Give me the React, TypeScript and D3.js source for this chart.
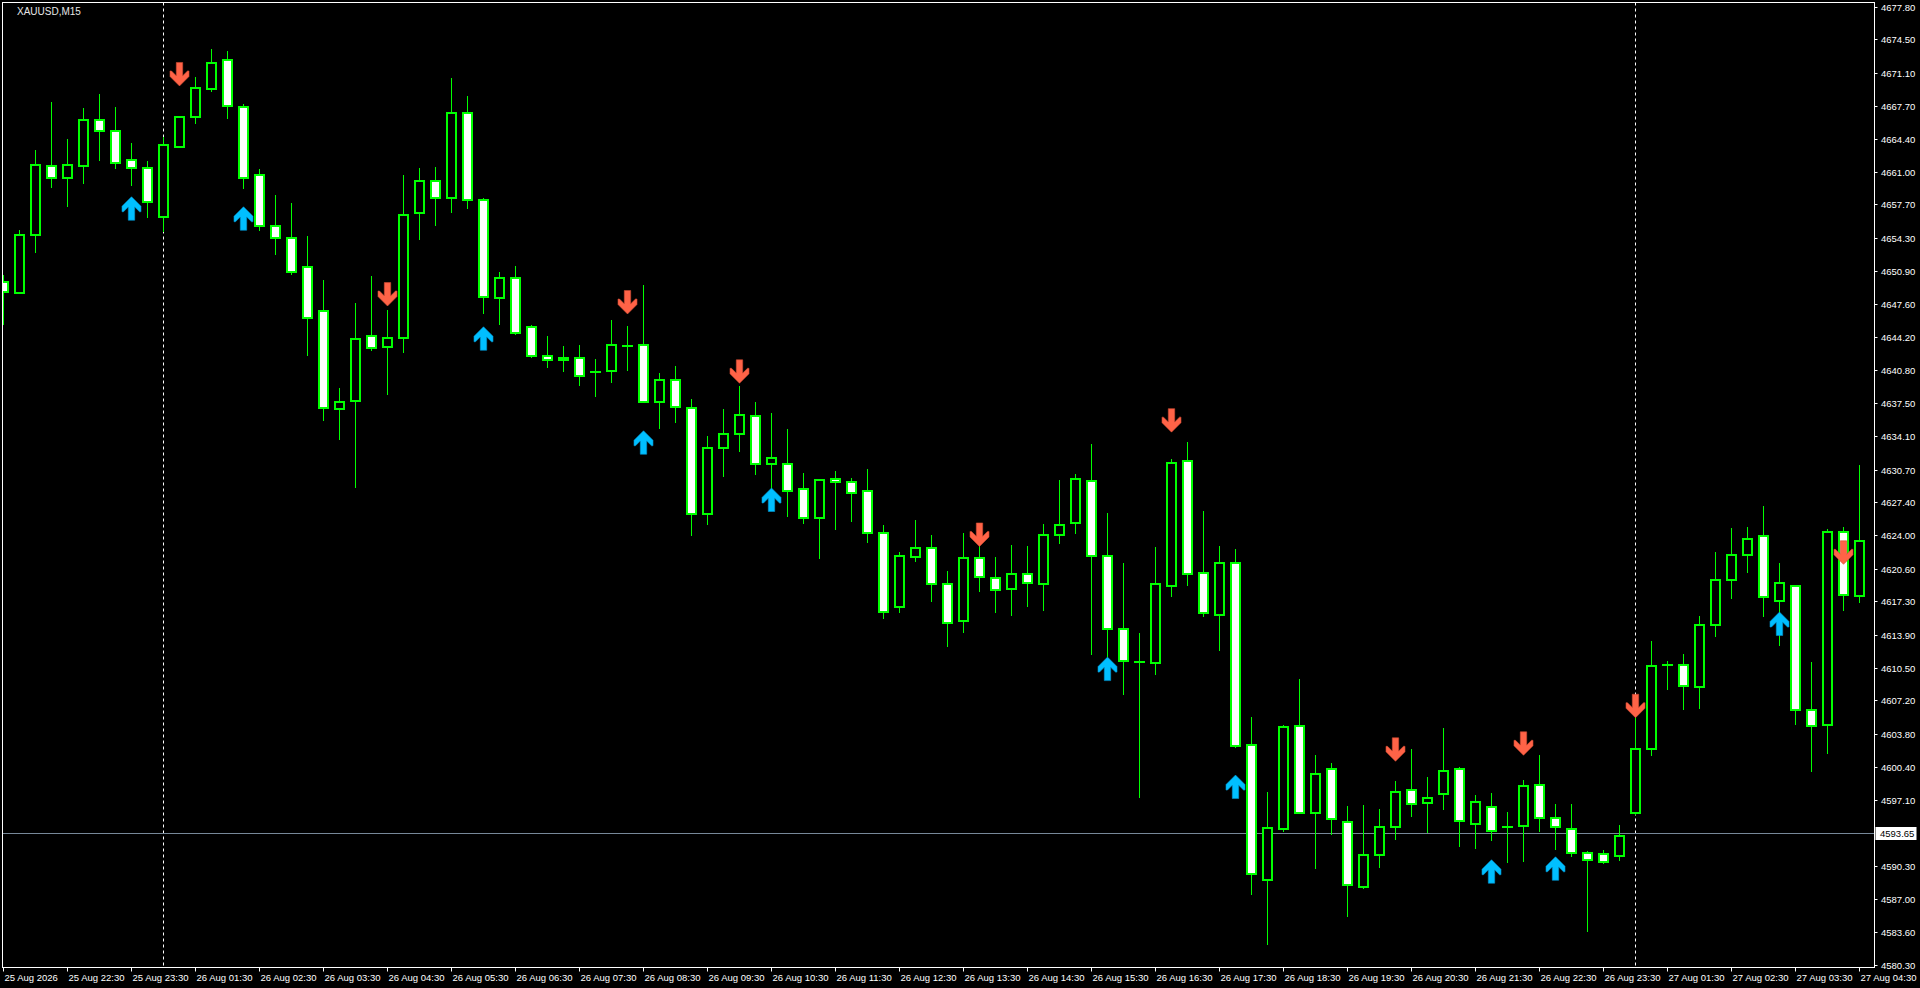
import React from "react";
import * as d3 from "d3";

// ---- DATA ----
const openP = [
  4649.83, 4648.71, 4654.55, 4661.57, 4660.35, 4661.57, 4666.26, 4665.14, 4662.19, 4661.37,
  4656.38, 4663.58, 4666.56, 4669.42, 4672.37, 4667.58, 4660.66, 4655.46, 4654.24, 4651.29,
  4646.81, 4636.83, 4637.64, 4644.26, 4643.14, 4644.06, 4656.79, 4660.05, 4658.32, 4666.97,
  4658.11, 4648.13, 4650.17, 4645.18, 4642.23, 4641.82, 4642.02, 4640.62, 4640.70, 4643.33,
  4643.35, 4637.54, 4639.78, 4636.93, 4626.14, 4632.86, 4634.28, 4636.12, 4631.23, 4631.23,
  4628.68, 4625.73, 4629.70, 4629.40, 4628.48, 4624.20, 4616.67, 4621.76, 4622.67, 4619.01,
  4615.24, 4621.67, 4619.70, 4618.50, 4620.10, 4619.09, 4624.00, 4625.30, 4629.49, 4621.85,
  4614.43, 4611.12, 4611.05, 4618.80, 4631.52, 4620.21, 4615.85, 4621.23, 4602.61, 4588.86,
  4594.06, 4604.61, 4595.69, 4600.17, 4594.77, 4588.22, 4591.41, 4594.26, 4598.03, 4596.71,
  4597.62, 4600.17, 4594.57, 4596.30, 4594.33, 4594.37, 4598.54, 4595.18, 4594.06, 4591.61,
  4591.52, 4591.34, 4595.72, 4602.21, 4610.79, 4610.76, 4608.59, 4614.83, 4619.42, 4621.96,
  4623.90, 4617.28, 4618.80, 4606.18, 4604.65, 4624.30, 4617.79,
];
const highP = [
  4650.51, 4655.09, 4663.24, 4668.13, 4664.36, 4667.51, 4668.94, 4667.62, 4663.95, 4662.08,
  4664.60, 4666.70, 4670.67, 4673.52, 4673.32, 4667.92, 4661.30, 4658.66, 4657.84, 4654.48,
  4650.00, 4639.00, 4647.62, 4650.41, 4646.94, 4660.69, 4661.40, 4661.51, 4670.57, 4668.74,
  4658.32, 4650.81, 4651.39, 4645.38, 4644.26, 4643.28, 4643.38, 4641.95, 4645.93, 4645.32,
  4649.49, 4640.53, 4641.24, 4637.88, 4634.11, 4636.86, 4639.20, 4637.58, 4636.46, 4634.83,
  4630.35, 4629.73, 4630.55, 4629.84, 4630.75, 4625.01, 4622.27, 4625.56, 4624.00, 4620.33,
  4624.24, 4622.94, 4621.78, 4623.01, 4622.90, 4625.16, 4629.63, 4630.25, 4633.31, 4626.29,
  4621.20, 4614.07, 4622.80, 4631.78, 4633.49, 4626.47, 4622.90, 4622.61, 4605.48, 4597.85,
  4604.68, 4609.37, 4601.63, 4600.81, 4596.43, 4596.54, 4596.13, 4598.98, 4602.24, 4599.39,
  4604.38, 4600.37, 4597.55, 4597.76, 4595.82, 4599.08, 4601.63, 4596.64, 4596.64, 4591.85,
  4591.95, 4594.50, 4605.50, 4613.24, 4611.20, 4611.91, 4615.78, 4622.30, 4624.74, 4624.85,
  4626.99, 4621.18, 4618.80, 4611.10, 4624.64, 4624.85, 4631.16,
];
const lowP = [
  4645.42, 4648.57, 4652.78, 4659.40, 4657.47, 4659.81, 4662.15, 4661.34, 4659.61, 4656.35,
  4654.85, 4663.44, 4665.89, 4669.14, 4666.43, 4659.30, 4655.02, 4652.55, 4650.51, 4642.29,
  4635.67, 4633.74, 4628.85, 4642.80, 4638.32, 4642.60, 4654.11, 4655.53, 4656.86, 4657.26,
  4646.57, 4645.45, 4644.40, 4642.02, 4641.07, 4640.60, 4639.17, 4638.12, 4639.54, 4640.77,
  4637.44, 4634.86, 4635.47, 4623.96, 4625.08, 4629.97, 4632.52, 4630.18, 4628.61, 4625.90,
  4625.19, 4621.62, 4624.57, 4625.39, 4623.25, 4615.51, 4616.06, 4621.32, 4617.18, 4612.66,
  4614.09, 4618.25, 4616.14, 4615.81, 4616.72, 4616.32, 4623.16, 4624.18, 4611.85, 4611.59,
  4607.78, 4597.30, 4609.81, 4617.74, 4618.87, 4615.67, 4612.21, 4602.39, 4587.41, 4582.32,
  4593.82, 4595.59, 4590.06, 4593.52, 4585.17, 4587.95, 4590.16, 4593.01, 4595.35, 4593.69,
  4596.06, 4592.29, 4592.09, 4592.91, 4590.60, 4590.77, 4593.82, 4591.99, 4591.28, 4583.64,
  4590.53, 4590.83, 4595.52, 4601.56, 4608.25, 4606.24, 4606.35, 4613.68, 4617.55, 4620.20,
  4615.72, 4612.76, 4604.72, 4599.93, 4601.76, 4616.33, 4617.14,
];
const closeP = [
  4648.74, 4654.55, 4661.68, 4660.35, 4661.68, 4666.26, 4665.14, 4661.88, 4661.37, 4657.91,
  4663.71, 4666.56, 4669.52, 4672.06, 4667.68, 4660.35, 4655.46, 4654.24, 4650.78, 4646.10,
  4636.93, 4637.54, 4643.96, 4643.04, 4644.06, 4656.58, 4660.05, 4658.32, 4666.97, 4658.11,
  4648.23, 4650.17, 4644.57, 4642.23, 4641.82, 4642.02, 4640.19, 4640.62, 4643.35, 4643.33,
  4637.54, 4639.78, 4637.03, 4626.14, 4632.86, 4634.28, 4636.22, 4631.23, 4631.84, 4628.48,
  4625.73, 4629.60, 4629.40, 4628.27, 4624.20, 4616.16, 4621.86, 4622.67, 4619.01, 4615.04,
  4621.66, 4619.74, 4618.39, 4620.03, 4619.12, 4624.00, 4625.01, 4629.71, 4621.85, 4614.43,
  4611.16, 4611.12, 4619.01, 4631.34, 4620.03, 4616.07, 4621.23, 4602.50, 4589.47, 4594.17,
  4604.45, 4595.69, 4599.66, 4595.08, 4588.36, 4591.41, 4594.26, 4597.83, 4596.61, 4597.22,
  4599.97, 4594.87, 4596.81, 4593.86, 4594.33, 4598.44, 4595.18, 4594.26, 4591.61, 4590.94,
  4590.76, 4593.38, 4602.21, 4610.66, 4610.79, 4608.62, 4614.83, 4619.42, 4621.96, 4623.59,
  4617.69, 4619.11, 4606.18, 4604.55, 4624.30, 4617.89, 4623.39,
];

const downArrowIdx = [11, 24, 39, 46, 61, 73, 87, 95, 102, 115];
const downArrowPrice = [4669.76, 4647.35, 4646.54, 4639.48, 4622.87, 4634.51, 4600.99, 4601.6, 4605.43, 4621.05];
const upArrowIdx = [8, 15, 30, 40, 48, 69, 77, 93, 97, 111];
const upArrowPrice = [4658.48, 4657.46, 4645.24, 4634.65, 4628.82, 4611.6, 4599.59, 4590.97, 4591.27, 4616.19];

const priceTicks = [
  4677.8, 4674.5, 4671.1, 4667.7, 4664.4, 4661.0, 4657.7, 4654.3, 4650.9, 4647.6,
  4644.2, 4640.8, 4637.5, 4634.1, 4630.7, 4627.4, 4624.0, 4620.6, 4617.3, 4613.9,
  4610.5, 4607.2, 4603.8, 4600.4, 4597.1, 4590.3, 4587.0, 4583.6, 4580.3,
];

const timeTickIdx = [
  0, 4, 8, 12, 16, 20, 24, 28, 32, 36, 40, 44, 48, 52, 56, 60, 64, 68, 72, 76,
  80, 84, 88, 92, 96, 100, 104, 108, 112, 116,
];
const timeTickLabels = [
  "25 Aug 2026", "25 Aug 22:30", "25 Aug 23:30", "26 Aug 01:30", "26 Aug 02:30",
  "26 Aug 03:30", "26 Aug 04:30", "26 Aug 05:30", "26 Aug 06:30", "26 Aug 07:30",
  "26 Aug 08:30", "26 Aug 09:30", "26 Aug 10:30", "26 Aug 11:30", "26 Aug 12:30",
  "26 Aug 13:30", "26 Aug 14:30", "26 Aug 15:30", "26 Aug 16:30", "26 Aug 17:30",
  "26 Aug 18:30", "26 Aug 19:30", "26 Aug 20:30", "26 Aug 21:30", "26 Aug 22:30",
  "26 Aug 23:30", "27 Aug 01:30", "27 Aug 02:30", "27 Aug 03:30", "27 Aug 04:30",
];
const separatorIdx = [10, 102];
const symbolLabel = "XAUUSD,M15";
const currentPrice = 4593.65;

// ---- LAYOUT ----
const W = 1920;
const H = 988;
const L = 2.5;
const T = 2.5;
const R = 1874.5;
const B = 967.5;

const GREEN = "#00FF00";
const FONT = "Tahoma, 'Liberation Sans', Arial, sans-serif";

const x = d3.scaleLinear().domain([0, 116]).range([3, 1859]);
const y = d3.scaleLinear().domain([4580.3, 4677.8]).range([964.5, 7]);

// up arrow polygon, tip at (0,0), y grows downward
const upPts: [number, number][] = [
  [0, 0], [9.5, 9.5], [9.5, 15], [8, 15], [3.2, 10.2], [3.2, 23.5],
  [-3.2, 23.5], [-3.2, 10.2], [-8, 15], [-9.5, 15], [-9.5, 9.5],
];
const arrowPath = (cx: number, tipY: number, dir: 1 | -1) => {
  const line = d3.line<[number, number]>().x((p) => cx + 0.5 + p[0]).y((p) => tipY + dir * p[1]);
  return line(upPts) + "Z";
};

export default function App() {
  const n = openP.length;
  const candles = d3.range(n).map((i) => {
    const o = openP[i], c = closeP[i], h = highP[i], l = lowP[i];
    const cx = x(i);
    const top = Math.round(y(Math.max(o, c)));
    const bot = Math.round(y(Math.min(o, c)));
    const bear = c < o;
    const doji = Math.abs(o - c) < 0.05;
    return (
      <g key={i}>
        <line x1={cx + 0.5} x2={cx + 0.5} y1={Math.round(y(h))} y2={Math.round(y(l))} stroke={GREEN} strokeWidth={1} />
        {doji ? (
          <line x1={cx - 5} x2={cx + 6} y1={top} y2={top} stroke={GREEN} strokeWidth={2} />
        ) : (
          <rect x={cx - 4} y={top} width={9} height={Math.max(bot - top, 1)} fill={bear ? "#FFFFFF" : "#000000"} stroke={GREEN} strokeWidth={2} />
        )}
      </g>
    );
  });

  const cpY = y(currentPrice);

  return (
    <div style={{ position: "absolute", left: 0, top: 0, width: W, height: H, background: "#000" }}>
      <svg width={W} height={H} style={{ display: "block" }}>
        <defs>
          <clipPath id="plot">
            <rect x={3} y={3} width={R - 3} height={B - 3} />
          </clipPath>
        </defs>
        <rect x={0} y={0} width={W} height={H} fill="#000" />

        <g clipPath="url(#plot)">
          {separatorIdx.map((i) => (
            <line key={i} x1={x(i) + 0.5} x2={x(i) + 0.5} y1={T} y2={B} stroke="#FFFFFF" strokeWidth={1} strokeDasharray="3,3" />
          ))}
          <line x1={L} x2={R} y1={Math.round(cpY) + 0.5} y2={Math.round(cpY) + 0.5} stroke="#778899" strokeWidth={1} />
          {candles}
          {downArrowIdx.map((i, k) => (
            <path key={"d" + i} d={arrowPath(x(i), y(downArrowPrice[k]), -1)} fill="#FF6347" stroke="#D04A32" strokeWidth={0.6} />
          ))}
          {upArrowIdx.map((i, k) => (
            <path key={"u" + i} d={arrowPath(x(i), y(upArrowPrice[k]), 1)} fill="#00BFFF" stroke="#0094D0" strokeWidth={0.6} />
          ))}
        </g>

        {/* frame */}
        <rect x={L} y={T} width={R - L} height={B - T} fill="none" stroke="#FFFFFF" strokeWidth={1} />

        {/* symbol label */}
        <text x={17} y={14.5} fill="#E6E6E6" fontFamily={FONT} fontSize={10}>{symbolLabel}</text>

        {/* price axis */}
        {priceTicks.map((p) => {
          const py = Math.round(y(p)) + 0.5;
          return (
            <g key={p}>
              <line x1={R} x2={R + 3} y1={py} y2={py} stroke="#FFFFFF" strokeWidth={1} />
              <text x={1881} y={py} dy="0.35em" fill="#FFFFFF" fontFamily={FONT} fontSize={9.5}>{p.toFixed(2)}</text>
            </g>
          );
        })}
        <rect x={1875.5} y={Math.round(cpY) - 6} width={41} height={13} fill="#FFFFFF" />
        <text x={1880} y={Math.round(cpY) + 0.5} dy="0.35em" fill="#000000" fontFamily={FONT} fontSize={9.5}>{currentPrice.toFixed(2)}</text>

        {/* time axis */}
        {timeTickIdx.map((i, k) => {
          const tx = Math.max(x(i), 2) + 0.5;
          return (
            <g key={i}>
              <line x1={tx} x2={tx} y1={B} y2={B + 4} stroke="#FFFFFF" strokeWidth={1} />
              <text x={tx + 1} y={980.5} fill="#FFFFFF" fontFamily={FONT} fontSize={9.5}>{timeTickLabels[k]}</text>
            </g>
          );
        })}
      </svg>
    </div>
  );
}
